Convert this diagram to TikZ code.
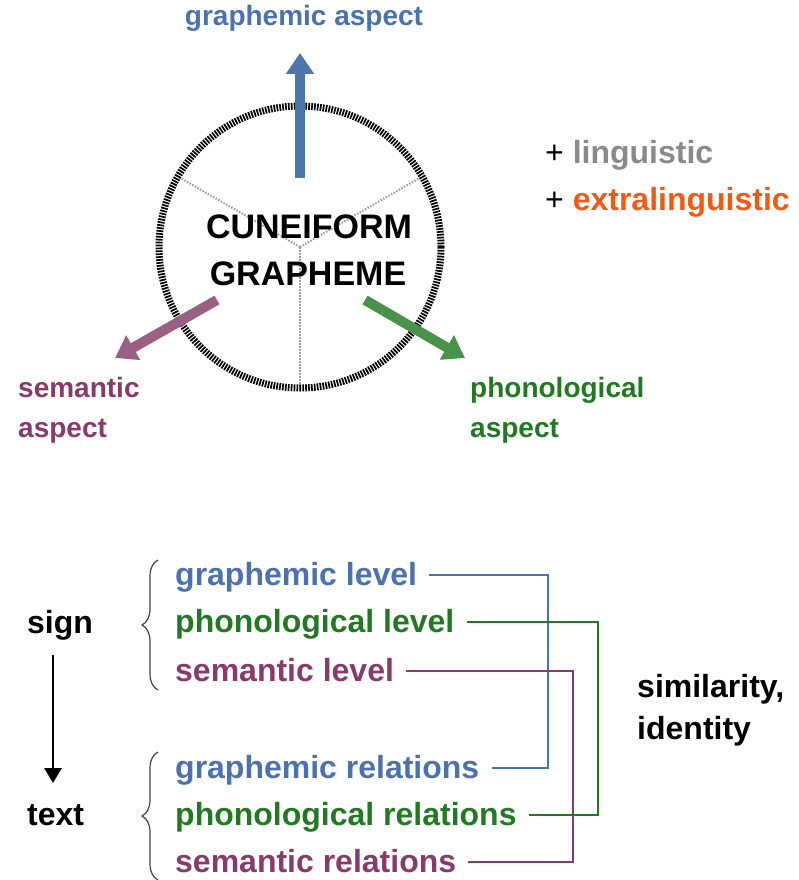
\documentclass[tikz,border=0pt]{standalone}
\usepackage{fontspec}
\setmainfont{Liberation Sans}
\usetikzlibrary{arrows.meta,decorations.pathreplacing}
\definecolor{gblue}{HTML}{4A72AE}
\definecolor{ggreen}{HTML}{217A21}
\definecolor{gpurple}{HTML}{873A6B}
\definecolor{ablue}{HTML}{4B76AE}
\definecolor{agreen}{HTML}{4A914A}
\definecolor{apurple}{HTML}{9A5F82}
\definecolor{lgray}{HTML}{8A8A8A}
\definecolor{xorange}{HTML}{F25A12}
\begin{document}
\begin{tikzpicture}[x=1pt,y=-1pt,
  lbl/.style={inner sep=0pt,anchor=base west,font=\fontsize{32}{38}\selectfont\bfseries},
  asp/.style={inner sep=0pt,anchor=base west,font=\fontsize{28}{34}\selectfont\bfseries},
  fat/.style={line width=10pt,-{Triangle[length=21pt,width=27pt]}},
  link/.style={line width=2pt}]
\useasboundingbox (0,0) rectangle (798,880);

% Grapheme circle and its three sectors
\coordinate (c) at (300,247);
\foreach \a in {90,210,330}
  \draw[dash pattern=on 1.5pt off 1.5pt,gray!75,line width=2.2pt] (c) -- ++(\a:141);
\draw[line width=7pt,dash pattern=on 1.7pt off 1.2pt,black] (c) circle[radius=141];
\node[inner sep=0pt,anchor=base,font=\fontsize{34}{40}\selectfont\bfseries] (cg1) at (309,238) {CUNEIFORM};
\node[inner sep=0pt,anchor=base,font=\fontsize{34}{40}\selectfont\bfseries] (cg2) at (308,285) {GRAPHEME};

% Aspects
\draw[fat,ablue] (300,178) -- (300,53);
\draw[fat,apurple] (217,300) -- (115,358);
\draw[fat,agreen] (365,300) -- (465,358);
\node[asp,gblue,anchor=base] (ga) at (304,26) {graphemic aspect};
\node[asp,gpurple] (sa1) at (18,397) {semantic};
\node[asp,gpurple] (sa2) at (18,437) {aspect};
\node[asp,ggreen] (pa1) at (470,397) {phonological};
\node[asp,ggreen] (pa2) at (470,437) {aspect};

\node[lbl] (lng) at (545,163) {{\mdseries +} \textcolor{lgray}{linguistic}};
\node[lbl] (xlng) at (545,210) {{\mdseries +} \textcolor{xorange}{extralinguistic}};

% Levels and relations
\node[lbl,gblue] (gl) at (175,585) {graphemic level};
\node[lbl,ggreen] (pl) at (175,632) {phonological level};
\node[lbl,gpurple] (sl) at (175,681) {semantic level};
\node[lbl,gblue] (gr) at (175,778) {graphemic relations};
\node[lbl,ggreen] (pr) at (175,825) {phonological relations};
\node[lbl,gpurple] (sr) at (175,872) {semantic relations};

\foreach \a/\b/\x/\c in {gl/gr/548/gblue, sl/sr/573/gpurple, pl/pr/598/ggreen} {
  \coordinate (p) at ([shift={(12pt,10pt)}]\a.base east);
  \coordinate (q) at ([shift={(12pt,10pt)}]\b.base east);
  \draw[link,\c] (p) -- (\x,0 |- p) -- (\x,0 |- q) -- (q);
}

\draw[decorate,decoration={brace,amplitude=16pt},line width=1.2pt,black!75] (158,690) -- (158,560);
\draw[decorate,decoration={brace,amplitude=16pt},line width=1.2pt,black!75] (158,880) -- (158,752);

\node[lbl] (sign) at (27,633) {sign};
\node[lbl] (txt) at (27,825) {text};
\draw[line width=2.8pt,-{Triangle[length=15pt,width=17pt]}] (53,655) -- (53,783);

\node[lbl] (sim) at (637,697) {similarity,};
\node[lbl] (idt) at (637,739) {identity};
\end{tikzpicture}
\end{document}
